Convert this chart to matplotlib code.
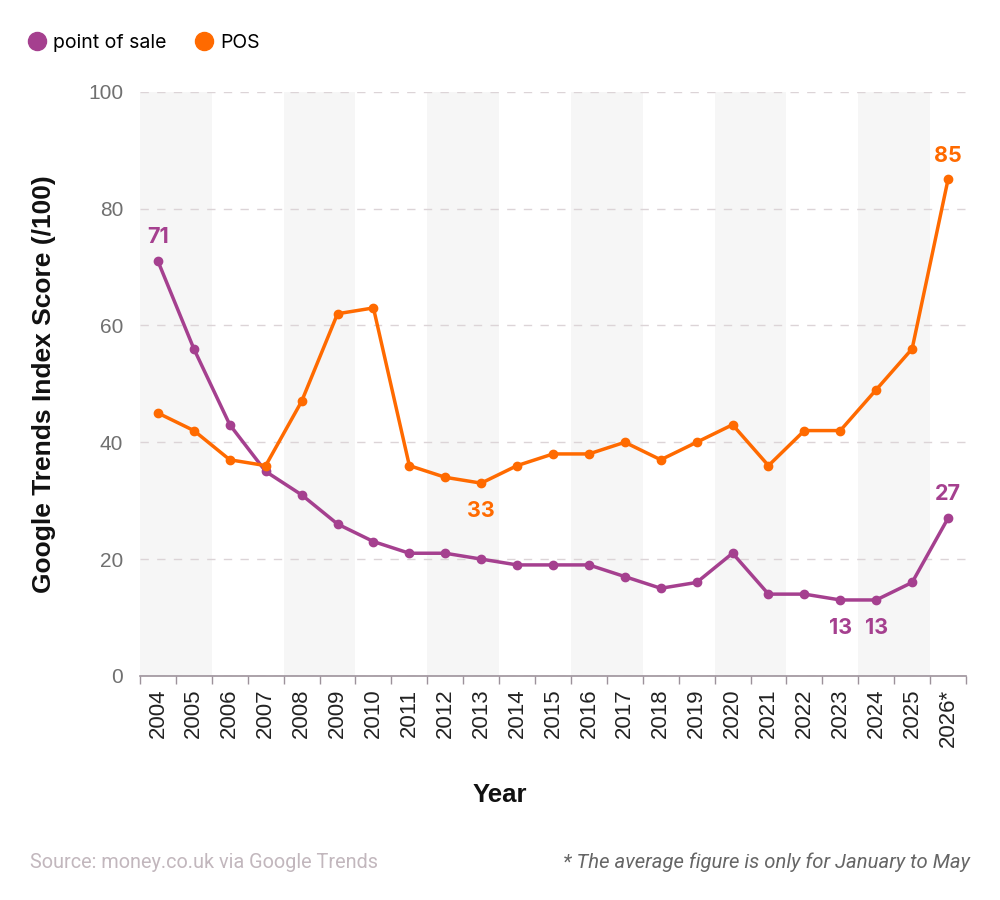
import numpy as np
import matplotlib
matplotlib.use("Agg")
import matplotlib.pyplot as plt
from matplotlib.lines import Line2D

# ── Data ───────────────────────────────────────────────────────────────────────
YEARS = ["2004", "2005", "2006", "2007", "2008", "2009", "2010", "2011", "2012",
         "2013", "2014", "2015", "2016", "2017", "2018", "2019", "2020", "2021",
         "2022", "2023", "2024", "2025", "2026*"]
POINT_OF_SALE = [71, 56, 43, 35, 31, 26, 23, 21, 21, 20, 19, 19, 19, 17, 15, 16,
                 21, 14, 14, 13, 13, 16, 27]
POS = [45, 42, 37, 36, 47, 62, 63, 36, 34, 33, 36, 38, 38, 40, 37, 40, 43, 36,
       42, 42, 49, 56, 85]

# (index, position) of the value labels
POS_LABELS = [(9, "below"), (22, "above")]
POINT_LABELS = [(0, "above"), (19, "below"), (20, "below"), (22, "above")]

PURPLE = "#a5408f"
ORANGE = "#ff6a00"

# ── Figure ─────────────────────────────────────────────────────────────────────
fig = plt.figure(figsize=(10, 9), dpi=100)
ax = fig.add_axes([0.140, 0.249, 0.826, 0.649])

n = len(YEARS)
x = np.arange(n)

# alternating shaded bands, two years each
for start in range(0, n, 4):
    ax.axvspan(start - 0.5, min(start + 1.5, n - 0.5), color="#f6f6f6", zorder=0, lw=0)

ax.set_xlim(-0.5, n - 0.5)
ax.set_ylim(0, 100)
ax.set_yticks(range(0, 101, 20))
ax.yaxis.grid(True, linestyle=(0, (6, 6)), color="#dcd4d7", linewidth=1)
ax.set_axisbelow(True)

ax.plot(x, POINT_OF_SALE, color=PURPLE, lw=2.5, marker="o", ms=6, zorder=3)
ax.plot(x, POS, color=ORANGE, lw=2.5, marker="o", ms=6, zorder=3)

for series, labels, color in [(POS, POS_LABELS, ORANGE),
                              (POINT_OF_SALE, POINT_LABELS, PURPLE)]:
    for i, where in labels:
        dy = 10 if where == "above" else -13
        ax.annotate(str(series[i]), (x[i], series[i]), xytext=(0, dy),
                    textcoords="offset points", ha="center",
                    va="bottom" if where == "above" else "top",
                    fontsize=15.5, fontweight="bold", color=color, family="Inter")

for side in ["top", "right", "left"]:
    ax.spines[side].set_visible(False)
ax.spines["bottom"].set_color("#9d929b")
ax.spines["bottom"].set_linewidth(1.2)

ax.set_xticks(x)
ax.set_xticklabels(YEARS, rotation=90, fontsize=16, family="Liberation Sans",
                   color="#222222")
ax.tick_params(axis="x", which="major", length=0, pad=9)
ax.set_xticks(np.arange(-0.5, n, 1), minor=True)
ax.tick_params(axis="x", which="minor", length=6, color="#9d929b", width=1)
ax.tick_params(axis="y", length=0, pad=12, labelsize=15, labelcolor="#707070")
for lbl in ax.get_yticklabels():
    lbl.set_family("Liberation Sans")

# "Year" sits at the figure centre rather than the axes centre
ax.set_xlabel("Year", fontsize=18.5, fontweight="bold", family="Liberation Sans",
              labelpad=26, color="#111111", x=0.436)
ax.set_ylabel("Google Trends Index Score (/100)", fontsize=19, fontweight="bold",
              family="Liberation Sans", labelpad=23, color="#111111")

# legend
handles = [Line2D([], [], ls="", marker="o", ms=13, color=PURPLE, label="point of sale"),
           Line2D([], [], ls="", marker="o", ms=13, color=ORANGE, label="POS")]
fig.legend(handles=handles, loc="upper left", bbox_to_anchor=(0.0, 0.982),
           ncol=2, frameon=False, handletextpad=-0.15, columnspacing=0.9,
           prop={"family": "Inter", "size": 14})

fig.text(0.03, 0.042, "Source: money.co.uk via Google Trends", fontsize=14.3,
         family="Roboto", color="#c2b7bd", va="center")
fig.text(0.970, 0.042, "* The average figure is only for January to May",
         fontsize=14.6, family="Roboto", style="italic", color="#666666",
         ha="right", va="center")

fig.savefig("out.png", dpi=100)
